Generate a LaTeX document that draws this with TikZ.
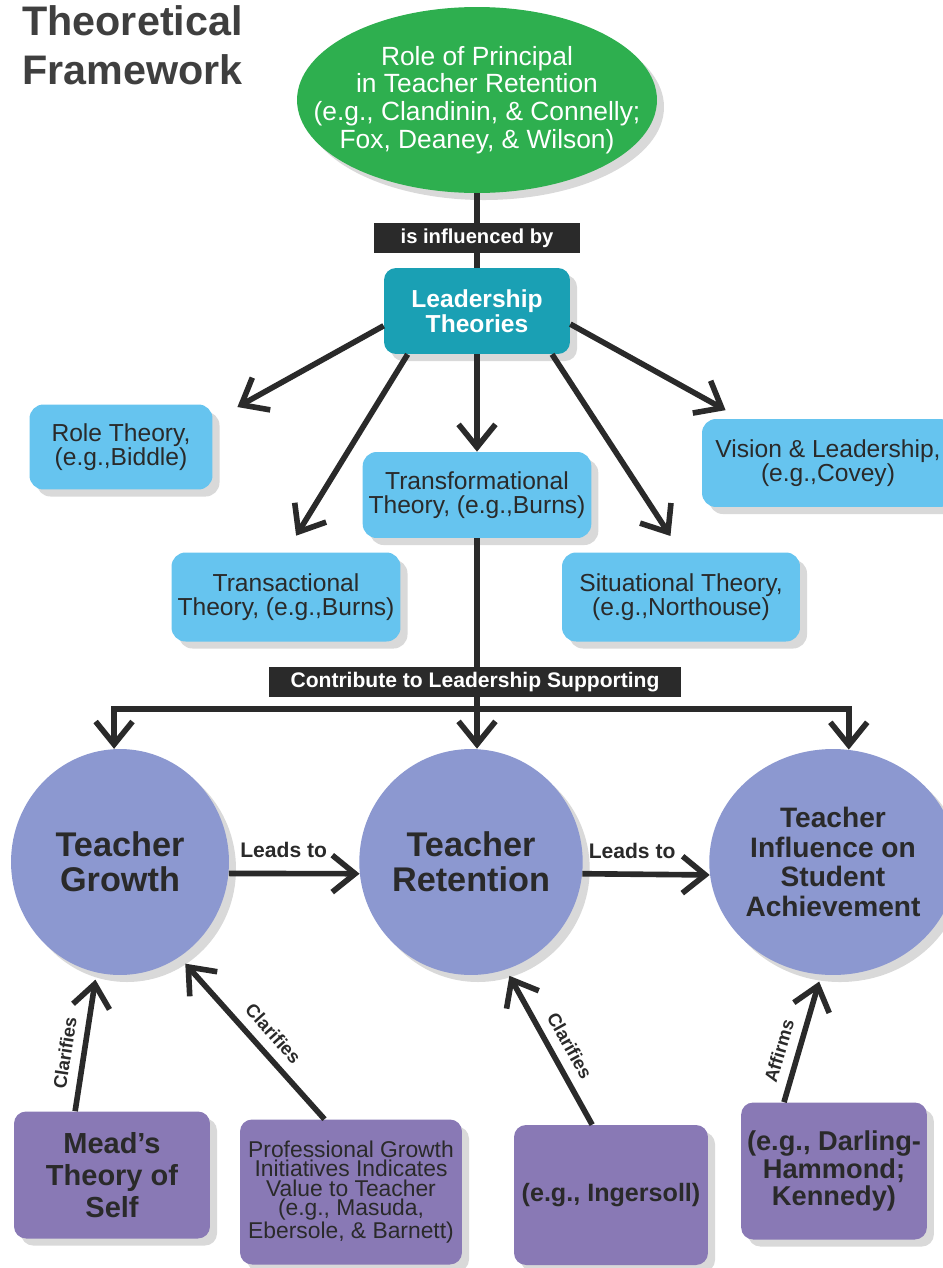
\documentclass[tikz,border=0pt]{standalone}
\usepackage{fontspec}
\setmainfont{Liberation Sans}
\definecolor{leafgreen}{HTML}{2EAF4F}
\definecolor{tealbox}{HTML}{1AA0B4}
\definecolor{skybox}{HTML}{66C4EF}
\definecolor{lavender}{HTML}{8C98D0}
\definecolor{plum}{HTML}{8979B5}
\definecolor{ink}{HTML}{2A2A2A}
\usepackage{tikz}
\usetikzlibrary{arrows.meta,shapes.geometric,shadows}
\tikzset{>={Straight Barb[length=13pt,width=21pt]}}
\tikzset{
  boxshadow/.style={drop shadow={shadow xshift=4pt,shadow yshift=-4pt,opacity=0.3}},
  theory/.style={rectangle,rounded corners=0.28cm,fill=skybox,text=ink,align=center,
    font=\fontsize{14}{14}\selectfont,boxshadow},
  tag/.style={rectangle,fill=ink,text=white,inner sep=0pt,
    font=\bfseries\fontsize{11.5}{12}\selectfont},
  stage/.style={ellipse,fill=lavender,text=ink,align=center,inner sep=0pt,boxshadow},
  source/.style={rectangle,rounded corners=0.24cm,fill=plum,text=ink,align=center,boxshadow},
  note/.style={text=ink,font=\bfseries\fontsize{10.5}{10.5}\selectfont},
  ln/.style={draw=ink,line width=3.2pt},
  arr/.style={ln,->}
}

\begin{document}
\begin{tikzpicture}[x=0.02cm,y=-0.02cm]
\useasboundingbox (0,0) rectangle (943,1268);

% title
\node[anchor=north west,inner sep=0pt,align=left,text=ink!90,
  font=\bfseries\fontsize{23.5}{28}\selectfont] (title) at (22,5) {Theoretical\\Framework};

% top of the framework
\node[ellipse,fill=leafgreen,inner sep=0pt,minimum width=7.2cm,minimum height=3.72cm,boxshadow]
  (princ) at (477,100) {};
\node[text=white,align=center,inner sep=0pt,font=\fontsize{15}{15.8}\selectfont] (princtxt) at (princ)
  {Role of Principal\\in Teacher Retention\\(e.g., Clandinin, \& Connelly;\\Fox, Deaney, \& Wilson)};
\node[tag,minimum width=4.14cm,minimum height=0.6cm] (infby) at (477,238) {is influenced by};
\node[rectangle,rounded corners=0.24cm,fill=tealbox,text=white,align=center,
  minimum width=3.72cm,minimum height=1.72cm,boxshadow,
  font=\bfseries\fontsize{14}{14}\selectfont] (lead) at (477,311) {Leadership\\Theories};

% leadership theories
\node[theory,minimum width=3.66cm,minimum height=1.7cm] (rolet) at (121,447) {Role Theory,\\(e.g.,Biddle)};
\node[theory,minimum width=4.44cm,minimum height=1.72cm] (trf) at (477,495) {Transformational\\Theory, (e.g.,Burns)};
\node[theory,minimum width=4.58cm,minimum height=1.78cm] (trs) at (286,597) {Transactional\\Theory, (e.g.,Burns)};
\node[theory,minimum width=4.76cm,minimum height=1.78cm] (sit) at (681,597) {Situational Theory,\\(e.g.,Northouse)};
\node[theory,minimum width=5.04cm,minimum height=1.76cm] (vis) at (828,463) {Vision \& Leadership,\\(e.g.,Covey)};

\draw[ln] (princ) -- (infby) -- (lead);
\draw[arr,shorten >=16pt] (lead.189) -- (rolet.16);
\draw[arr,shorten >=11pt] (lead.212) -- (trs.north);
\draw[arr] (lead) -- (trf);
\draw[arr,shorten >=11pt] (lead.330) -- (sit.north);
\draw[arr,shorten >=10pt] (lead.352) -- (vis.153);

\node[tag,minimum width=8.24cm,minimum height=0.6cm,font=\bfseries\fontsize{12}{12}\selectfont]
  (contr) at (475,682) {Contribute to Leadership Supporting};
\coordinate (split) at (477,709);

% teacher stages
\node[stage,minimum width=4.36cm,minimum height=4.52cm,font=\bfseries\fontsize{19.5}{20}\selectfont]
  (grow) at (120,862) {Teacher\\Growth};
\node[stage,minimum width=4.38cm,minimum height=4.52cm,font=\bfseries\fontsize{19.5}{20}\selectfont]
  (ret) at (471,862) {Teacher\\Retention};
\node[stage,minimum width=4.2cm,minimum height=4.52cm,font=\bfseries\fontsize{16}{17}\selectfont]
  (infl) at (833,862) {Teacher\\Influence on\\Student\\Achievement};

\draw[ln] (trf) -- (trf.south|-contr.north);
\draw[ln] (trf.south|-contr.south) -- (split);
\draw[arr] (split) -| (grow.93);
\draw[arr] (split) -- (split|-ret.north);
\draw[arr] (split) -| (infl.82);

\draw[arr] (grow.354) -- (ret.186) node[note,pos=0.42,above=4pt,font=\bfseries\fontsize{12}{12}\selectfont] {Leads to};
\draw[arr] (ret.354) -- (infl.186) node[note,pos=0.39,above=4pt,font=\bfseries\fontsize{12}{12}\selectfont] {Leads to};

% sources
\node[source,minimum width=3.92cm,minimum height=2.54cm,font=\bfseries\fontsize{16.5}{18}\selectfont]
  (mead) at (112,1175) {Mead's\\Theory of\\Self};
\node[source,minimum width=4.44cm,minimum height=2.9cm,font=\fontsize{13}{11}\selectfont]
  (prof) at (351,1192) {Professional Growth\\Initiatives Indicates\\Value to Teacher\\(e.g., Masuda,\\Ebersole, \& Barnett)};
\node[source,minimum width=3.88cm,minimum height=2.8cm,font=\bfseries\fontsize{14.3}{15}\selectfont]
  (ing) at (611,1195) {(e.g., Ingersoll)};
\node[source,minimum width=3.66cm,minimum height=2.74cm,font=\bfseries\fontsize{15.5}{15.6}\selectfont]
  (darl) at (834,1171) {(e.g., Darling-\\Hammond;\\Kennedy)};

\draw[arr,shorten >=4pt] (mead.120) -- (grow.258) node[note,sloped,pos=0.4,above=2pt] {Clarifies};
\draw[arr,shorten >=5pt] (prof.110) -- (grow.302) node[note,sloped,pos=0.45,above=2pt] {Clarifies};
\draw[arr,shorten >=4pt] (ing.105) -- (ret.288) node[note,sloped,pos=0.45,above=2pt] {Clarifies};
\draw[arr,shorten >=4pt] (darl.126) -- (infl.264) node[note,sloped,pos=0.36,above=2pt] {Affirms};
\end{tikzpicture}
\end{document}
